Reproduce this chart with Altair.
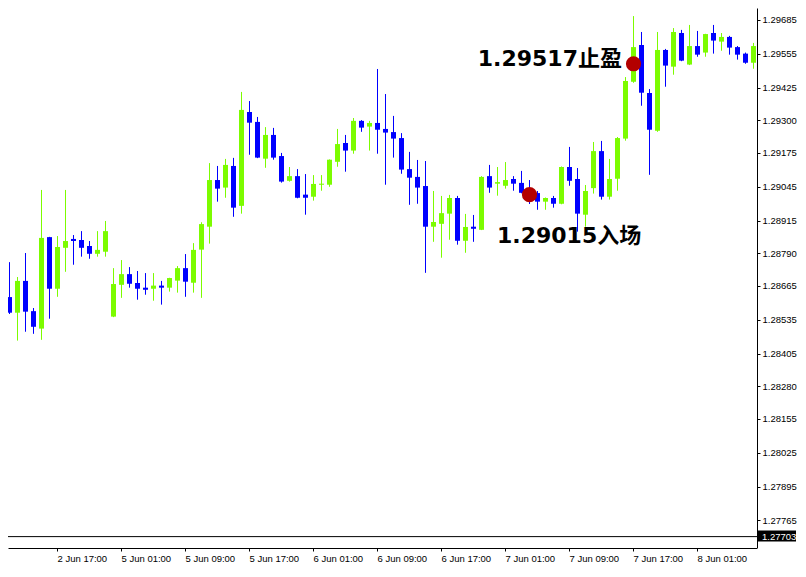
import altair as alt
import pandas as pd

# ---- candle data (hourly bars, index 0..94) ----
opens = [1.28600, 1.28622, 1.28562, 1.28684, 1.28568, 1.28501, 1.28852, 1.28654, 1.28811, 1.28845,
         1.28841, 1.28818, 1.28788, 1.28796, 1.28547, 1.28669, 1.28710, 1.28676, 1.28658, 1.28654,
         1.28666, 1.28658, 1.28685, 1.28733, 1.28677, 1.28804, 1.28892, 1.29071, 1.29042, 1.29125,
         1.28972, 1.29332, 1.29294, 1.29153, 1.29244, 1.29163, 1.29068, 1.29086, 1.29015, 1.29007,
         1.29053, 1.29053, 1.29141, 1.29213, 1.29184, 1.29298, 1.29276, 1.29290, 1.29267, 1.29255,
         1.29232, 1.29113, 1.29083, 1.29048, 1.28892, 1.28903, 1.28942, 1.29002, 1.28838, 1.28892,
         1.28880, 1.29086, 1.29057, 1.29049, 1.29075, 1.29060, 1.29040, 1.29021, 1.28988, 1.29002,
         1.28980, 1.29121, 1.29075, 1.28938, 1.29040, 1.29182, 1.29007, 1.29076, 1.29230, 1.29448,
         1.29589, 1.29405, 1.29260, 1.29570, 1.29506, 1.29635, 1.29514, 1.29585, 1.29560, 1.29635,
         1.29602, 1.29620, 1.29581, 1.29556, 1.29521]
highs = [1.28687, 1.28756, 1.28699, 1.28791, 1.28580, 1.29033, 1.28853, 1.28856, 1.29033, 1.28860,
         1.28875, 1.28837, 1.28875, 1.28914, 1.28733, 1.28764, 1.28737, 1.28722, 1.28714, 1.28714,
         1.28684, 1.28696, 1.28741, 1.28787, 1.28829, 1.28909, 1.29136, 1.29125, 1.29152, 1.29156,
         1.29409, 1.29374, 1.29313, 1.29274, 1.29271, 1.29175, 1.29121, 1.29113, 1.29094, 1.29090,
         1.29090, 1.29150, 1.29267, 1.29244, 1.29309, 1.29301, 1.29298, 1.29497, 1.29401, 1.29317,
         1.29251, 1.29179, 1.29148, 1.29144, 1.29029, 1.29010, 1.29014, 1.29010, 1.28941, 1.28937,
         1.29086, 1.29129, 1.29121, 1.29140, 1.29086, 1.29106, 1.29071, 1.29029, 1.29004, 1.29010,
         1.29123, 1.29198, 1.29117, 1.29052, 1.29217, 1.29221, 1.29152, 1.29236, 1.29466, 1.29700,
         1.29639, 1.29420, 1.29639, 1.29574, 1.29654, 1.29647, 1.29666, 1.29643, 1.29632, 1.29666,
         1.29635, 1.29624, 1.29585, 1.29560, 1.29597]
lows = [1.28557, 1.28557, 1.28455, 1.28489, 1.28481, 1.28458, 1.28539, 1.28623, 1.28719, 1.28746,
        1.28777, 1.28769, 1.28777, 1.28777, 1.28545, 1.28619, 1.28658, 1.28612, 1.28631, 1.28608,
        1.28593, 1.28643, 1.28639, 1.28623, 1.28639, 1.28619, 1.28827, 1.28988, 1.29003, 1.28930,
        1.28942, 1.29168, 1.29155, 1.29118, 1.29149, 1.29061, 1.29065, 1.29001, 1.28938, 1.28992,
        1.29030, 1.29045, 1.29122, 1.29103, 1.29172, 1.29256, 1.29184, 1.29172, 1.29053, 1.29157,
        1.29095, 1.28976, 1.28980, 1.28715, 1.28834, 1.28773, 1.28842, 1.28823, 1.28792, 1.28834,
        1.28879, 1.29022, 1.29011, 1.29038, 1.29030, 1.29020, 1.28979, 1.28957, 1.28957, 1.28965,
        1.28978, 1.29049, 1.28873, 1.28892, 1.29019, 1.28996, 1.28996, 1.29030, 1.29222, 1.29444,
        1.29356, 1.29091, 1.29256, 1.29429, 1.29475, 1.29527, 1.29512, 1.29544, 1.29544, 1.29556,
        1.29567, 1.29552, 1.29533, 1.29517, 1.29498]
closes = [1.28626, 1.28562, 1.28684, 1.28566, 1.28508, 1.28849, 1.28654, 1.28814, 1.28837, 1.28837,
          1.28811, 1.28788, 1.28803, 1.28875, 1.28672, 1.28710, 1.28673, 1.28654, 1.28650, 1.28666,
          1.28658, 1.28695, 1.28733, 1.28681, 1.28803, 1.28902, 1.29071, 1.29038, 1.29129, 1.28965,
          1.29340, 1.29291, 1.29157, 1.29244, 1.29157, 1.29065, 1.29086, 1.29003, 1.29003, 1.29056,
          1.29057, 1.29149, 1.29209, 1.29184, 1.29298, 1.29272, 1.29290, 1.29264, 1.29253, 1.29230,
          1.29111, 1.29080, 1.29042, 1.28892, 1.28910, 1.28944, 1.29002, 1.28838, 1.28891, 1.28884,
          1.29083, 1.29042, 1.29063, 1.29071, 1.29057, 1.29022, 1.28995, 1.28988, 1.29002, 1.28980,
          1.29121, 1.29068, 1.28942, 1.29029, 1.29182, 1.29007, 1.29075, 1.29232, 1.29451, 1.29581,
          1.29406, 1.29264, 1.29570, 1.29510, 1.29639, 1.29529, 1.29585, 1.29552, 1.29631, 1.29606,
          1.29620, 1.29579, 1.29552, 1.29521, 1.29585]

# ---- axis labels ----
tick_idx = [7, 15, 23, 31, 39, 47, 55, 63, 71, 79, 87]
tick_labels = ["2 Jun 17:00", "5 Jun 01:00", "5 Jun 09:00", "5 Jun 17:00", "6 Jun 01:00",
               "6 Jun 09:00", "6 Jun 17:00", "7 Jun 01:00", "7 Jun 09:00", "7 Jun 17:00",
               "8 Jun 01:00"]
price_ticks = [1.29685, 1.29555, 1.29425, 1.29300, 1.29175, 1.29045, 1.28915, 1.28790, 1.28665,
               1.28535, 1.28405, 1.28280, 1.28155, 1.28025, 1.27895, 1.27765]

# ---- annotations ----
entry_idx, entry_price, entry_label = 66, 1.29015, "1.29015入场"
tp_idx, tp_price, tp_label = 79, 1.29517, "1.29517止盈"
marker_price, marker_label = 1.27703, "1.27703"

GREEN = "#7CFC00"
BLUE = "#0000FF"
RED = "#B30000"

W, H = 749, 538

df = pd.DataFrame({"i": list(range(len(opens))), "open": opens, "high": highs,
                   "low": lows, "close": closes})

xs = alt.Scale(domain=[0.875, 0.875 + W / 8], nice=False, zero=False, padding=0)
ys = alt.Scale(domain=[1.27667, 1.29731], nice=False, zero=False, padding=0)

label_expr = " : ".join(
    f"datum.value == {v} ? '{t}'" for v, t in zip(tick_idx, tick_labels)) + " : ''"

x_axis = alt.Axis(values=tick_idx, labelExpr=label_expr, title=None, grid=False,
                  labelAlign="left", labelFlush=False, labelOverlap=False, offset=2,
                  tickSize=3, labelPadding=2, labelFontSize=9.5)
y_axis = alt.Axis(values=price_ticks, format=".5f", orient="right", title=None, grid=False,
                  tickSize=3, labelPadding=2, labelFontSize=9.5, labelOverlap=False,
                  labelFlush=False)

X = alt.X("i:Q", scale=xs, axis=x_axis)
color = alt.condition("datum.close >= datum.open", alt.value(GREEN), alt.value(BLUE))

base = alt.Chart(df)
wicks = base.mark_rule(strokeWidth=1, xOffset=0.5, clip=True).encode(
    x=X, y=alt.Y("low:Q", scale=ys, axis=y_axis), y2="high:Q", color=color)
bodies = base.mark_bar(size=5, xOffset=0.5, clip=True).encode(
    x=X, y=alt.Y("open:Q", scale=ys, axis=y_axis), y2="close:Q", color=color)

ann = pd.DataFrame({"i": [entry_idx, tp_idx], "p": [entry_price, tp_price],
                    "label": [entry_label, tp_label]})
Yp = alt.Y("p:Q", scale=ys, axis=y_axis)

dots = alt.Chart(ann).mark_circle(size=230, color=RED, opacity=1, xOffset=0.5).encode(x=X, y=Yp)
FONT = "DejaVu Sans, Noto Sans CJK SC"
tp_text = alt.Chart(ann[ann.i == tp_idx]).mark_text(
    align="right", baseline="alphabetic", dx=-11, dy=2, fontSize=22, fontWeight="bold",
    font=FONT, color="black").encode(x=X, y=Yp, text="label:N")
entry_text = alt.Chart(ann[ann.i == entry_idx]).mark_text(
    align="left", baseline="alphabetic", dx=-32, dy=48, fontSize=22, fontWeight="bold",
    font=FONT, color="black").encode(x=X, y=Yp, text="label:N")

mk = pd.DataFrame({"p": [marker_price], "label": [marker_label]})
mline = alt.Chart(mk).mark_rule(color="black", strokeWidth=1).encode(
    y=Yp, x=alt.value(0), x2=alt.value(W))
mbox = alt.Chart(mk).mark_rect(color="black", yOffset=-6, y2Offset=5).encode(
    y=Yp, y2="p:Q", x=alt.value(W + 1), x2=alt.value(W + 39))
mtext = alt.Chart(mk).mark_text(color="white", align="left", baseline="middle", fontSize=9.5,
                                font="Liberation Sans").encode(
    y=Yp, x=alt.value(W + 5), text="label:N")
# right axis line continues down to the bottom axis line
axis_ext = alt.Chart(mk).mark_rule(color="black", strokeWidth=1).encode(
    x=alt.value(W + 0.5), y=alt.value(H), y2=alt.value(H + 2))

chart = alt.layer(wicks, bodies, mline, dots, tp_text, entry_text, mbox, mtext, axis_ext).properties(
    width=W, height=H, padding={"left": 0, "top": 0, "right": 41, "bottom": 17},
    autosize=alt.AutoSizeParams(type="none"),
    background="white"
).configure_view(stroke=None).configure_axis(
    domainColor="black", tickColor="black", labelColor="black",
    labelFont="Liberation Sans", domainWidth=1
)

chart.save("out.html", embed_options={"renderer": "svg", "actions": False})
